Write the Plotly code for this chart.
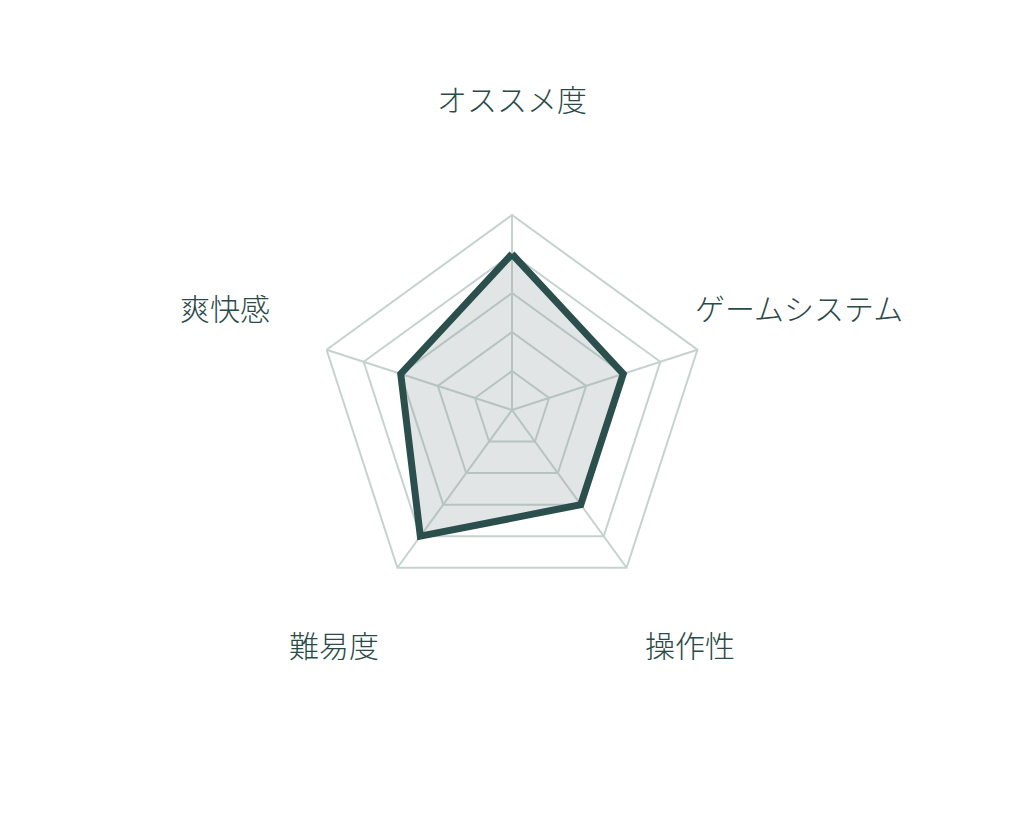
import numpy as np
import plotly.graph_objects as go

categories = ["オススメ度", "ゲームシステム", "操作性", "難易度", "爽快感"]
values = [4, 3, 3, 4, 3]
max_score = 5

line_color = "#2b4f4d"
grid_color = "#c6d2cf"
text_color = "#2a4a48"

W, H = 1024, 820
# page has an 8px body margin, so the polar centre sits at (504, 402) in figure pixels
cx, cy, radius = 504, 402, 195
label_dist = 302

fig = go.Figure()
fig.add_trace(go.Scatterpolar(
    r=values + values[:1],
    theta=categories + categories[:1],
    mode="lines",
    line=dict(color=line_color, width=7),
    fill="toself",
    fillcolor="rgba(140,152,150,0.25)",
    hoverinfo="skip",
))

# category labels centred on a ring outside the chart
angles = np.pi / 2 - 2 * np.pi * np.arange(len(categories)) / len(categories)
for name, a in zip(categories, angles):
    px_x = cx + label_dist * np.cos(a)
    px_y = cy - label_dist * np.sin(a) - 10
    fig.add_annotation(
        x=px_x / W, y=1 - px_y / H, xref="paper", yref="paper",
        text=name, showarrow=False, xanchor="center", yanchor="middle",
        font=dict(size=30, color=text_color, weight=300),
    )

fig.update_layout(
    width=W, height=H,
    margin=dict(l=0, r=0, t=0, b=0),
    paper_bgcolor="white",
    showlegend=False,
    font=dict(family="Noto Sans CJK JP Light, Noto Sans CJK JP", size=26, color=text_color),
    polar=dict(
        domain=dict(x=[(cx - radius) / W, (cx + radius) / W],
                    y=[1 - (cy + radius) / H, 1 - (cy - radius) / H]),
        bgcolor="white",
        gridshape="linear",
        radialaxis=dict(
            range=[0, max_score], dtick=1, showticklabels=False, ticks="",
            showline=False, gridcolor=grid_color, gridwidth=2,
        ),
        angularaxis=dict(
            direction="clockwise", rotation=90,
            showline=True, linecolor=grid_color, linewidth=2,
            gridcolor=grid_color, gridwidth=2,
            showticklabels=False, ticks="",
        ),
    ),
)

fig.write_html("out.html")
